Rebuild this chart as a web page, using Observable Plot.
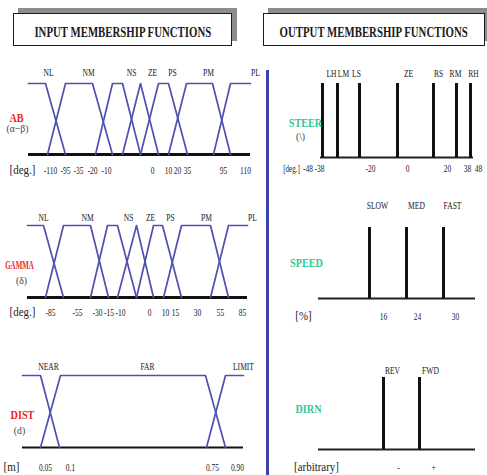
<!DOCTYPE html>
<html>
<head>
<meta charset="utf-8">
<script src="https://cdn.jsdelivr.net/npm/d3@7"></script>
<script src="https://cdn.jsdelivr.net/npm/@observablehq/plot@0.6"></script>
<style>
  html, body { margin: 0; padding: 0; background: #fff; }
  #fig { position: relative; width: 487px; height: 475px; background: #fff; overflow: hidden; }
  .tb { position: absolute; box-sizing: border-box; border: 1.5px solid #1a1a1a; box-shadow: 5px -5px 0 #8c8c8c;
        background: #fff; display: flex; align-items: center; justify-content: center; }
  .tb span { font: bold 15px "Liberation Serif", "Times New Roman", serif; color: #1a1a1a; white-space: nowrap;
             display: inline-block; transform: scaleX(0.72); margin-top: 6px; }
  #divider { position: absolute; left: 266px; top: 70px; width: 3px; height: 405px; background: #3b44a8; }
</style>
</head>
<body>
<div id="fig">
  <div class="tb" style="left:13px;top:13px;width:219px;height:33px"><span>INPUT MEMBERSHIP FUNCTIONS</span></div>
  <div class="tb" style="left:263px;top:13px;width:222px;height:33px"><span>OUTPUT MEMBERSHIP FUNCTIONS</span></div>
  <div id="divider"></div>
</div>
<script>
// ---------- INPUT: AB (alpha - beta) ----------
const abSets = ["NL", "NM", "NS", "ZE", "PS", "PM", "PL"];
const abLabelPos = [48, 88, 131, 152, 172, 208, 255];
const abShapeX = [[28, 45, 65], [47, 65, 92, 112], [95, 112, 122, 140], [122, 140, 158], [140, 158, 168, 187], [168, 186, 212, 230], [213, 230, 250]];
const abShapeM = [[1, 1, 0], [0, 1, 1, 0], [0, 1, 1, 0], [0, 1, 0], [0, 1, 1, 0], [0, 1, 1, 0], [0, 1, 1]];
const abTicks = ["-110", "-95", "-35", "-20", "-10", "0", "10", "20", "35", "95", "110"];
const abTickPos = [50, 65, 78, 92, 106, 152, 168, 177, 187, 223, 245];
const abAxis = [28, 250];

// ---------- INPUT: GAMMA ----------
const gmSets = ["NL", "NM", "NS", "ZE", "PS", "PM", "PL"];
const gmLabelPos = [43, 87, 128, 150, 170, 206, 252];
const gmShapeX = [[27, 43, 63], [45, 63, 90, 108], [90, 107, 117, 136], [117, 136, 153], [136, 153, 162, 181], [163, 181, 210, 228], [210, 228, 247]];
const gmShapeM = [[1, 1, 0], [0, 1, 1, 0], [0, 1, 1, 0], [0, 1, 0], [0, 1, 1, 0], [0, 1, 1, 0], [0, 1, 1]];
const gmTicks = ["-85", "-55", "-30", "-15", "-10", "0", "10", "15", "30", "55", "85"];
const gmTickPos = [50, 77, 97, 108.5, 120, 149, 165, 175, 197, 220, 242];
const gmAxis = [27, 247];

// ---------- INPUT: DIST ----------
const dsSets = ["NEAR", "FAR", "LIMIT"];
const dsLabelPos = [48, 147, 243];
const dsShapeX = [[22, 40, 59], [40, 60, 205, 225], [206, 225, 243]];
const dsShapeM = [[1, 1, 0], [0, 1, 1, 0], [0, 1, 1]];
const dsTicks = ["0.05", "0.1", "0.75", "0.90"];
const dsTickPos = [45, 70, 212, 237];
const dsAxis = [22, 243];

// ---------- OUTPUT: STEER ----------
const stSets = ["LH", "LM", "LS", "ZE", "RS", "RM", "RH"];
const stSpikePos = [322, 337, 359, 397, 433, 456, 470];
const stLabelPos = [331, 343, 356, 408, 438, 455, 473];
const stTicks = ["-48", "-38", "-20", "0", "20", "38", "48"];
const stTickPos = [307.5, 319, 370, 407, 447, 467, 478];
const stAxis = [320, 473];

// ---------- OUTPUT: SPEED ----------
const spSets = ["SLOW", "MED", "FAST"];
const spSpikePos = [369, 406, 443];
const spLabelPos = [377, 416, 452];
const spTicks = ["16", "24", "30"];
const spTickPos = [383, 417, 455];
const spAxis = [318, 475];

// ---------- OUTPUT: DIRN ----------
const drSets = ["REV", "FWD"];
const drSpikePos = [383, 419];
const drLabelPos = [392, 430];
const drTicks = ["-", "+"];
const drTickPos = [398, 433];
const drAxis = [318, 475];

// ---------- variable names, symbols, units ----------
const varNames = ["AB", "GAMMA", "DIST", "STEER", "SPEED", "DIRN"];
const varSymbols = ["(α−β)", "(δ)", "(d)", "(\\)", "", ""];
const varUnits = ["[deg.]", "[deg.]", "[m]", "[deg.]", "[%]", "[arbitrary]"];
const namePos = [16, 19, 22, 305, 306, 308];
const symbolPos = [17, 21, 19, 300, 0, 0];
const unitPos = [22, 22, 11, 291, 303, 316];

const FONT = "'Liberation Serif', 'Times New Roman', serif";
const BLUE = "#5050b0";
const RED = "#f01e1e";
const GREEN = "#30c896";
const INK = "#222";

const fig = document.getElementById("fig");

function rowsOf(sets, xs, ms) {
  const rows = [];
  sets.forEach((s, i) => xs[i].forEach((x, j) => rows.push({set: s, x, m: ms[i][j]})));
  return rows;
}

function textMarks(k, o) {
  const marks = [];
  marks.push(Plot.text(o.sets.map((s, i) => ({s, x: o.labelPos[i]})),
    {x: "x", y: () => 1, text: "s", dy: o.labelDy, fontSize: 10.5, fill: INK}));
  marks.push(Plot.text(o.ticks.map((t, i) => ({t, x: o.tickPos[i]})),
    {x: "x", y: () => 0, text: "t", dy: o.tickDy, fontSize: 11, fill: INK}));
  marks.push(Plot.text([{u: varUnits[k], x: unitPos[k]}],
    {x: "x", y: () => 0, text: "u", dy: o.tickDy, fontSize: o.unitFs || 11.5, fill: INK}));
  marks.push(Plot.text([{n: varNames[k], x: namePos[k]}],
    {x: "x", y: () => 0.5, text: "n", dy: o.nameDy, fontSize: 12, fontWeight: "bold", fill: k < 3 ? RED : GREEN}));
  if (varSymbols[k]) {
    marks.push(Plot.text([{n: varSymbols[k], x: symbolPos[k]}],
      {x: "x", y: () => 0.5, text: "n", dy: o.symDy, fontSize: 10.8, fill: "#444"}));
  }
  return marks;
}

function inputPanel(k, o) {
  const rows = rowsOf(o.sets, o.shapeX, o.shapeM);
  return Plot.plot({
    width: 266, height: o.height, margin: 0,
    x: {domain: [0, 266], range: [0, 266], axis: null},
    y: {domain: [0, 1], range: [o.base - o.top, o.peak - o.top], axis: null},
    style: {background: "transparent", overflow: "visible", fontFamily: FONT},
    marks: [
      Plot.ruleY([{x1: o.axis[0], x2: o.axis[1]}], {x1: "x1", x2: "x2", y: () => 0, stroke: "#111", strokeWidth: o.axisW}),
      Plot.line(rows, {x: "x", y: "m", z: "set", stroke: BLUE, strokeWidth: 1.7}),
      ...textMarks(k, o)
    ]
  });
}

function outputPanel(k, o) {
  return Plot.plot({
    width: 219, height: o.height, margin: 0,
    x: {domain: [268, 487], range: [0, 219], axis: null},
    y: {domain: [0, 1], range: [o.base - o.top, o.peak - o.top], axis: null},
    style: {background: "transparent", overflow: "visible", fontFamily: FONT},
    marks: [
      Plot.ruleY([{x1: o.axis[0], x2: o.axis[1]}], {x1: "x1", x2: "x2", y: () => 0, stroke: "#222", strokeWidth: 2}),
      Plot.ruleX(o.spikes.map(x => ({x})), {x: "x", y1: () => 0, y2: () => 1, stroke: "#111", strokeWidth: 3}),
      ...textMarks(k, o)
    ]
  });
}

function place(svg, left, top) {
  svg.style.position = "absolute";
  svg.style.left = left + "px";
  svg.style.top = top + "px";
  svg.style.maxWidth = "none";
  fig.appendChild(svg);
  // the reference type is horizontally condensed
  svg.querySelectorAll("text").forEach(t => {
    const g = t.closest("g");
    const fs = parseFloat(g.getAttribute("font-size"));
    const bold = g.getAttribute("font-weight") === "bold";
    let f = 0.68;
    if (fs === 10.5) f = 0.72;
    else if (fs === 11.5) f = 0.95;
    else if (fs === 11.4) f = 0.62;
    else if (fs === 10.8) f = 0.9;
    else if (bold) f = t.textContent === "GAMMA" ? 0.58 : 0.85;
    const w = t.getComputedTextLength();
    if (w > 0) {
      t.setAttribute("textLength", (w * f).toFixed(2));
      t.setAttribute("lengthAdjust", "spacingAndGlyphs");
    }
  });
}

place(inputPanel(0, {sets: abSets, labelPos: abLabelPos, shapeX: abShapeX, shapeM: abShapeM, ticks: abTicks, tickPos: abTickPos,
  axis: abAxis, axisW: 3, top: 58, height: 125, base: 154, peak: 83, labelDy: -11, tickDy: 16, nameDy: -1, symDy: 10}), 0, 58);
place(inputPanel(1, {sets: gmSets, labelPos: gmLabelPos, shapeX: gmShapeX, shapeM: gmShapeM, ticks: gmTicks, tickPos: gmTickPos,
  axis: gmAxis, axisW: 3, top: 200, height: 125, base: 297, peak: 225, labelDy: -8, tickDy: 15, nameDy: 4, symDy: 19}), 0, 200);
place(inputPanel(2, {sets: dsSets, labelPos: dsLabelPos, shapeX: dsShapeX, shapeM: dsShapeM, ticks: dsTicks, tickPos: dsTickPos,
  axis: dsAxis, axisW: 2, top: 352, height: 123, base: 447, peak: 375, labelDy: -9, tickDy: 20, nameDy: 4, symDy: 19}), 0, 352);

place(outputPanel(3, {sets: stSets, labelPos: stLabelPos, spikes: stSpikePos, ticks: stTicks, tickPos: stTickPos, unitFs: 11.4,
  axis: stAxis, top: 58, height: 125, base: 157, peak: 83, labelDy: -10, tickDy: 11, nameDy: 3, symDy: 16}), 268, 58);
place(outputPanel(4, {sets: spSets, labelPos: spLabelPos, spikes: spSpikePos, ticks: spTicks, tickPos: spTickPos,
  axis: spAxis, top: 190, height: 135, base: 298, peak: 227, labelDy: -22, tickDy: 18, nameDy: 0, symDy: 0}), 268, 190);
place(outputPanel(5, {sets: drSets, labelPos: drLabelPos, spikes: drSpikePos, ticks: drTicks, tickPos: drTickPos,
  axis: drAxis, top: 352, height: 123, base: 449, peak: 377, labelDy: -7, tickDy: 18, nameDy: -4, symDy: 0}), 268, 352);
</script>
</body>
</html>
